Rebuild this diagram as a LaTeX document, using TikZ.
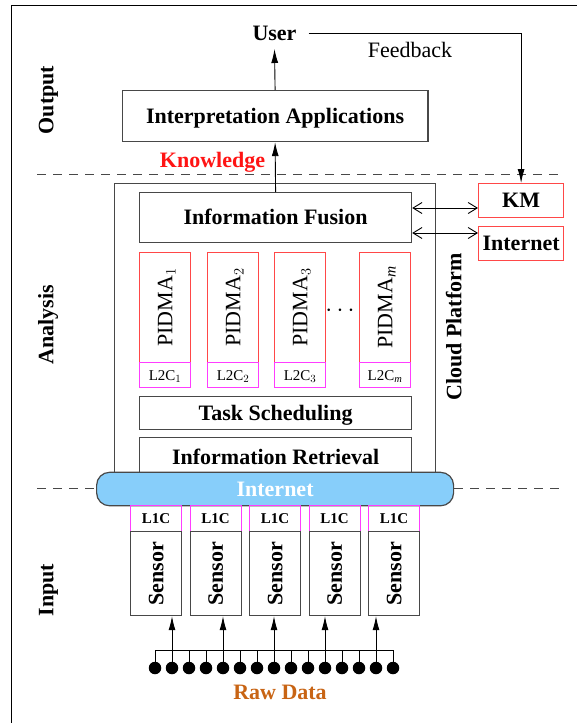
\documentclass[tikz,border=0pt]{standalone}
\usepackage{fontspec}
\setmainfont{Liberation Serif}
\usetikzlibrary{arrows.meta}
\definecolor{boxgray}{RGB}{72,72,72}
\definecolor{pred}{RGB}{255,72,72}
\definecolor{pmag}{RGB}{255,60,255}
\definecolor{netblue}{RGB}{135,206,250}
\definecolor{rawbrown}{RGB}{200,100,20}
\definecolor{kred}{RGB}{255,20,20}
\begin{document}
\begin{tikzpicture}[x=1pt,y=-1pt,
  bigb/.style={font=\fontsize{22}{26}\selectfont\bfseries},
  bigr/.style={font=\fontsize{22}{26}\selectfont},
  smallb/.style={font=\fontsize{15}{18}\selectfont\bfseries},
  smallr/.style={font=\fontsize{15}{18}\selectfont},
  capc/.style={text height=14.6pt, text depth=0pt},
  capcs/.style={text height=10pt, text depth=0pt},
  box/.style={draw=boxgray, line width=1.2pt, inner sep=0pt, anchor=north west},
  redbox/.style={draw=pred, line width=1.2pt, inner sep=0pt, anchor=north west},
  magbox/.style={draw=pmag, line width=1.2pt, inner sep=0pt, anchor=north west},
  lbl/.style={inner sep=0pt},
  arr/.style={line width=0.9pt, -{Latex[length=14pt,width=7pt]}},
  dbl/.style={line width=0.9pt, {Straight Barb[length=9pt,width=11pt]}-{Straight Barb[length=9pt,width=11pt]}},
  dashline/.style={draw=boxgray, line width=0.9pt, dash pattern=on 9pt off 7pt},
  dot/.style={circle, fill=black, inner sep=0pt, minimum size=12.5pt}
]
\useasboundingbox (0,0) rectangle (577,723);
% frame
\draw[line width=1.4pt] (11.5,723) -- (11.5,5.5) -- (577,5.5);

% section labels
\node[lbl, bigb, capc, rotate=90] (outlbl) at (46,100) {Output};
\node[lbl, bigb, capc, rotate=90] (analbl) at (46,325) {Analysis};
\node[lbl, bigb, capc, rotate=90] (inlbl) at (46,590) {Input};

% dashed separators
\draw[dashline] (37,174) -- (562,174);

% top
\node[lbl, bigb, capc] (user) at (274.5,33.5) {User};
\node[lbl, bigr, capc] (fb) at (410,49.7) {Feedback};
\node[box, bigb, capc, minimum width=305.6pt, minimum height=51pt] (interp) at (121.7,90) {Interpretation Applications};
\node[lbl, bigb, capc, text=kred] (know) at (212.5,159.7) {Knowledge};

% right boxes
\node[redbox, bigb, capc, minimum width=85pt, minimum height=34pt] (km) at (478,183) {KM};
\node[redbox, bigb, capc, minimum width=85pt, minimum height=34pt] (inet) at (478,226) {Internet};

% cloud platform
\node[box, minimum width=321pt, minimum height=302pt] (cloud) at (114,183) {};
\node[lbl, bigb, capc, rotate=90] (cloudlbl) at (454,327) {Cloud Platform};
\node[box, bigb, capc, minimum width=272pt, minimum height=50pt] (if) at (139,192) {Information Fusion};

\foreach \x/\s/\n in {139/1/1, 207/2/2, 274/3/3, 359/{\mathit{m}}/m}{
  \node[redbox, bigr, capc, rotate=90, anchor=north east, minimum width=110pt, minimum height=51pt] (p\n) at (\x,252) {PIDMA$_{\s}$};
  \node[magbox, smallr, capcs, minimum width=51pt, minimum height=25pt] (c\n) at (\x,362) {L2C$_{\s}$};
}
\node[lbl, font=\fontsize{27}{30}\selectfont] (dots) at (340,311) {$\cdots$};

\node[box, bigb, capc, minimum width=272pt, minimum height=33pt] (ts) at (139,396) {Task Scheduling};
\node[box, bigb, capc, minimum width=272pt, minimum height=40pt] (ir) at (139,437) {Information Retrieval};

% internet bar
\node[draw=boxgray, line width=1.2pt, fill=netblue, rounded corners=13pt, inner sep=0pt, anchor=north west,
      minimum width=357pt, minimum height=33.5pt, bigb, capc, text=white] (net) at (96,471.7) {Internet};
\draw[dashline] (37,488.5) -- (net.west |- 0,488.5);
\draw[dashline] (net.east |- 0,488.5) -- (562,488.5);

% sensors
\foreach \k in {0,...,4}{
  \node[magbox, smallb, capcs, minimum width=51pt, minimum height=25.7pt] (l\k) at ({130+59.5*\k},505) {L1C};
  \node[box, bigb, capc, rotate=90, anchor=north east, minimum width=84.3pt, minimum height=51pt] (s\k) at ({130+59.5*\k},530.7) {Sensor};
}

% raw data
\foreach \i in {0,...,14}{
  \node[dot] (b\i) at ({155+17*\i},668) {};
  \draw[line width=0.9pt] (b\i.center) -- (b\i.center |- 0,650);
}
\draw[line width=0.9pt] (b0.center |- 0,650) -- (b14.center |- 0,650);
\foreach \k/\j in {0/1,1/4,2/7,3/10,4/13}{
  \draw[arr] (b\j.center) -- (b\j.center |- s\k.west);
}
\node[lbl, bigb, capc, text=rawbrown] (raw) at (280,692.5) {Raw Data};

% connectors
\draw[arr] (interp.north) -- ([yshift=-8pt]user.south);
\draw[arr] (if.north) -- (interp.south);
\draw[line width=0.9pt, -{Latex[length=14pt,width=7pt]}] ([xshift=12pt]user.east) -| (km.north);
\draw[dbl] (if.east |- 0,208) -- (km.west |- 0,208);
\draw[dbl] (if.east |- 0,233) -- (inet.west |- 0,233);
\end{tikzpicture}
\end{document}
